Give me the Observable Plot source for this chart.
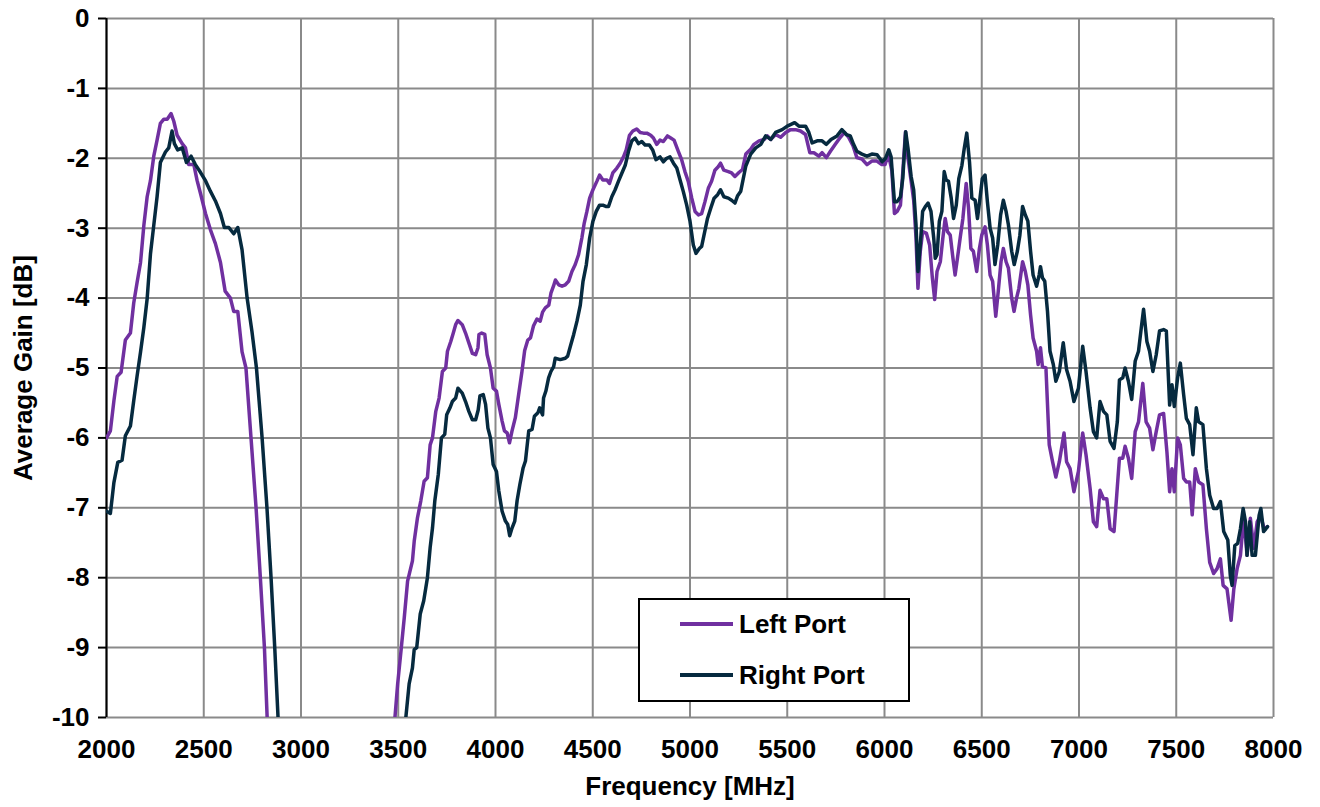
<!DOCTYPE html>
<html>
<head>
<meta charset="utf-8">
<script src="https://cdn.jsdelivr.net/npm/d3@7"></script>
<script src="https://cdn.jsdelivr.net/npm/@observablehq/plot@0.6"></script>
<style>
  html, body { margin: 0; padding: 0; background: #fff; }
  #wrap { position: relative; width: 1320px; height: 807px; font-family: "Liberation Sans", Arial, sans-serif; }
  #legend { position: absolute; left: 638px; top: 598px; width: 268px; height: 100px; border: 2px solid #000; background: #fff; box-sizing: content-box; }
  .item { position: absolute; left: 40px; height: 30px; display: flex; align-items: center; font-weight: bold; font-size: 26px; color: #000; }
  .sw { width: 53px; height: 4px; margin-right: 6px; }
</style>
</head>
<body>
<div id="wrap"></div>
<script>
// ---- data ----
const seriesNames = ["Left Port", "Right Port"];
const seriesColors = ["#7030A0", "#062A3F"];
const xTicks = [2000, 2500, 3000, 3500, 4000, 4500, 5000, 5500, 6000, 6500, 7000, 7500, 8000];
const yTicks = [0, -1, -2, -3, -4, -5, -6, -7, -8, -9, -10];

const leftFreq = [2000,2020,2038,2055,2075,2097,2123,2140,2157,2175,2192,2209,2226,2243,2260,2277,2295,2312,2332,2346,2363,2389,2406,2423,2449,2466,2483,2509,2534,2560,2586,2610,2637,2654,2675,2697,2717,2743,2769,2791,2812,2826,
3100,
3483,3497,3514,3531,3548,3573,3582,3599,3616,3633,3650,3664,3676,3693,3710,3727,3744,3753,3770,3783,3795,3807,3829,3846,3863,3881,3898,3910,3915,3929,3945,3957,3974,3988,4005,4017,4034,4046,4060,4072,4085,4102,4119,4136,4150,4166,4180,4195,4213,4230,4242,4256,4274,4285,4298,4308,4325,4342,4359,4376,4393,4410,4427,4444,4456,4470,4484,4501,4521,4535,4552,4573,4586,4603,4624,4641,4658,4672,4689,4706,4726,4744,4761,4778,4798,4812,4829,4846,4863,4884,4901,4918,4940,4957,4974,4991,5009,5026,5043,5060,5077,5094,5111,5128,5145,5157,5174,5197,5214,5231,5253,5270,5287,5312,5329,5355,5381,5398,5415,5440,5466,5492,5517,5543,5568,5594,5616,5637,5662,5679,5701,5722,5747,5773,5794,5816,5838,5858,5884,5910,5935,5961,5986,6003,6020,6038,6051,6065,6082,6094,6108,6118,6137,6150,6162,6172,6184,6196,6215,6232,6246,6258,6270,6287,6300,6312,6324,6338,6352,6363,6375,6389,6403,6420,6432,6444,6457,6474,6488,6500,6517,6529,6543,6556,6572,6585,6599,6611,6625,6637,6654,6666,6679,6691,6710,6724,6737,6751,6764,6782,6790,6802,6812,6830,6847,6864,6881,6899,6923,6936,6954,6974,6997,7019,7036,7057,7074,7091,7108,7126,7143,7160,7180,7194,7208,7225,7237,7254,7271,7289,7306,7328,7345,7363,7380,7397,7414,7435,7452,7466,7478,7490,7507,7521,7538,7552,7569,7582,7598,7615,7637,7655,7672,7692,7710,7727,7741,7761,7782,7796,7813,7830,7847,7864,7881,7899,7916,7933,7952,7969];
const leftGain = [-6.0,-5.9,-5.47,-5.12,-5.06,-4.6,-4.5,-4.07,-3.78,-3.49,-2.96,-2.55,-2.32,-1.97,-1.74,-1.5,-1.44,-1.44,-1.36,-1.47,-1.67,-1.79,-1.85,-2.09,-2.09,-2.32,-2.5,-2.79,-3.02,-3.22,-3.49,-3.9,-4.0,-4.19,-4.19,-4.77,-5.0,-6.0,-7.0,-8.0,-9.0,-10,
null,
-10,-9.52,-9.05,-8.57,-8.05,-7.76,-7.48,-7.14,-6.9,-6.62,-6.57,-6.1,-6.0,-5.62,-5.43,-5.05,-5.0,-4.76,-4.62,-4.5,-4.38,-4.32,-4.38,-4.5,-4.64,-4.79,-4.81,-4.71,-4.52,-4.5,-4.52,-4.81,-5.0,-5.29,-5.33,-5.52,-5.76,-5.9,-5.93,-6.07,-5.9,-5.71,-5.38,-5.05,-4.75,-4.6,-4.57,-4.4,-4.3,-4.33,-4.2,-4.14,-4.1,-3.93,-3.83,-3.74,-3.81,-3.83,-3.81,-3.76,-3.62,-3.52,-3.38,-3.14,-2.93,-2.76,-2.57,-2.45,-2.33,-2.24,-2.31,-2.31,-2.36,-2.21,-2.14,-2.07,-1.98,-1.88,-1.67,-1.61,-1.58,-1.63,-1.64,-1.64,-1.67,-1.71,-1.8,-1.74,-1.76,-1.68,-1.71,-1.74,-1.9,-2.02,-2.19,-2.33,-2.57,-2.76,-2.81,-2.79,-2.62,-2.43,-2.33,-2.17,-2.12,-2.07,-2.17,-2.19,-2.21,-2.26,-2.2,-2.16,-1.94,-1.87,-1.8,-1.75,-1.73,-1.68,-1.73,-1.66,-1.7,-1.63,-1.59,-1.59,-1.61,-1.66,-1.92,-1.92,-1.97,-1.92,-1.99,-1.9,-1.8,-1.7,-1.63,-1.7,-1.82,-1.99,-2.01,-2.09,-2.04,-2.04,-2.09,-2.09,-1.94,-2.18,-2.79,-2.76,-2.67,-2.2,-1.62,-1.94,-2.33,-2.6,-3.14,-3.86,-3.33,-3.05,-3.07,-3.24,-3.71,-4.02,-3.62,-3.48,-3.14,-2.86,-3.05,-3.1,-3.43,-3.67,-3.43,-3.14,-2.86,-2.36,-2.71,-3.29,-3.33,-3.62,-3.29,-3.1,-2.98,-3.24,-3.67,-3.76,-4.26,-3.9,-3.48,-3.29,-3.48,-3.57,-4.0,-4.19,-4.0,-3.86,-3.48,-3.62,-3.81,-4.24,-4.57,-4.76,-4.95,-4.71,-4.98,-5.0,-6.1,-6.34,-6.56,-6.34,-5.93,-6.34,-6.44,-6.77,-6.48,-5.93,-6.24,-6.72,-7.2,-7.27,-6.75,-6.87,-6.87,-7.3,-7.34,-6.82,-6.29,-6.29,-6.12,-6.29,-6.58,-5.91,-5.77,-5.22,-5.77,-5.86,-6.17,-5.91,-5.67,-5.65,-6.2,-6.77,-6.44,-6.77,-6.0,-6.1,-6.58,-6.63,-6.63,-7.1,-6.44,-6.63,-6.67,-7.3,-7.78,-7.94,-7.87,-7.73,-8.11,-8.16,-8.61,-8.16,-7.87,-7.68,-7.13,-7.68,-7.15,-7.58,-7.2,-7.11,-7.3,-7.27];

const rightFreq = [2000,2020,2038,2058,2080,2097,2123,2140,2157,2175,2192,2209,2226,2243,2260,2277,2303,2320,2337,2349,2366,2389,2411,2435,2457,2483,2509,2534,2560,2586,2606,2629,2654,2675,2697,2723,2748,2771,2800,2825,2846,2865,2882,
3200,
3539,3556,3573,3582,3595,3613,3631,3650,3664,3676,3688,3706,3722,3739,3749,3766,3778,3795,3807,3829,3846,3863,3881,3898,3911,3920,3937,3949,3961,3974,3988,4005,4017,4034,4051,4063,4073,4085,4099,4111,4125,4142,4154,4171,4188,4200,4218,4227,4242,4247,4259,4273,4285,4299,4307,4333,4359,4371,4385,4402,4419,4436,4450,4467,4484,4501,4518,4535,4552,4570,4581,4598,4615,4632,4650,4667,4684,4701,4718,4735,4752,4769,4791,4808,4825,4846,4863,4880,4897,4915,4932,4949,4966,4983,5000,5017,5031,5048,5060,5072,5090,5107,5124,5142,5157,5174,5197,5214,5231,5244,5261,5287,5312,5338,5364,5389,5415,5440,5474,5500,5538,5560,5594,5611,5628,5654,5679,5701,5725,5756,5781,5804,5824,5841,5858,5884,5910,5935,5962,5988,6005,6022,6034,6051,6065,6082,6094,6109,6121,6137,6150,6162,6172,6184,6196,6210,6224,6239,6253,6261,6270,6282,6295,6307,6317,6329,6343,6355,6369,6382,6398,6410,6423,6437,6449,6466,6478,6491,6503,6517,6529,6543,6556,6568,6582,6597,6611,6625,6637,6654,6667,6683,6696,6710,6724,6737,6751,6764,6782,6795,6802,6812,6824,6838,6851,6868,6881,6899,6919,6936,6954,6974,6997,7019,7036,7057,7074,7091,7108,7126,7143,7160,7180,7197,7208,7225,7237,7254,7271,7289,7306,7320,7332,7349,7363,7380,7397,7414,7435,7449,7466,7478,7490,7507,7521,7538,7552,7569,7586,7603,7615,7637,7655,7672,7692,7710,7727,7744,7765,7778,7787,7801,7816,7830,7844,7856,7864,7878,7890,7907,7926,7935,7949,7961,7969];
const rightGain = [-7.05,-7.08,-6.64,-6.35,-6.32,-5.97,-5.83,-5.47,-5.12,-4.77,-4.42,-4.01,-3.37,-2.96,-2.55,-2.06,-1.91,-1.85,-1.61,-1.79,-1.88,-1.85,-2.06,-1.97,-2.09,-2.2,-2.32,-2.47,-2.61,-2.79,-2.99,-2.99,-3.08,-2.99,-3.31,-4.0,-4.48,-5.0,-6.0,-7.0,-8.0,-9.0,-10,
null,
-10,-9.52,-9.29,-9.03,-9.0,-8.52,-8.33,-8.0,-7.57,-7.29,-6.9,-6.52,-6.0,-5.95,-5.67,-5.57,-5.48,-5.43,-5.29,-5.36,-5.48,-5.62,-5.74,-5.74,-5.6,-5.4,-5.38,-5.52,-5.86,-6.0,-6.38,-6.48,-6.76,-7.05,-7.19,-7.24,-7.4,-7.29,-7.19,-6.9,-6.67,-6.43,-6.33,-5.9,-5.88,-5.69,-5.64,-5.57,-5.67,-5.43,-5.33,-5.14,-5.05,-4.98,-4.86,-4.88,-4.86,-4.83,-4.69,-4.52,-4.33,-4.1,-3.76,-3.52,-3.14,-2.9,-2.76,-2.67,-2.67,-2.69,-2.69,-2.55,-2.45,-2.33,-2.21,-2.1,-1.9,-1.75,-1.71,-1.79,-1.76,-1.81,-1.81,-1.88,-2.02,-1.98,-2.05,-2.0,-1.98,-2.07,-2.14,-2.31,-2.48,-2.67,-2.9,-3.24,-3.36,-3.29,-3.26,-3.1,-2.86,-2.71,-2.57,-2.52,-2.45,-2.55,-2.57,-2.6,-2.64,-2.54,-2.47,-2.11,-1.94,-1.85,-1.8,-1.68,-1.73,-1.63,-1.59,-1.54,-1.49,-1.54,-1.54,-1.63,-1.78,-1.75,-1.75,-1.8,-1.73,-1.68,-1.59,-1.66,-1.68,-1.8,-1.9,-1.94,-1.97,-1.94,-1.95,-2.05,-2.0,-1.88,-1.98,-2.62,-2.62,-2.55,-2.29,-1.62,-1.86,-2.26,-2.45,-2.95,-3.62,-3.24,-2.76,-2.69,-2.64,-2.76,-3.14,-3.43,-3.38,-2.9,-2.76,-2.19,-2.31,-2.33,-2.57,-2.86,-2.67,-2.29,-2.1,-1.86,-1.64,-2.05,-2.57,-2.6,-2.86,-2.57,-2.29,-2.24,-2.62,-3.0,-3.14,-3.52,-3.24,-2.81,-2.6,-2.76,-2.95,-3.33,-3.52,-3.33,-3.1,-2.69,-2.81,-2.9,-3.33,-3.67,-3.83,-3.67,-3.55,-3.71,-3.76,-4.19,-4.76,-4.95,-5.19,-5.05,-4.64,-5.02,-5.19,-5.48,-5.29,-4.69,-5.05,-5.57,-5.91,-6.0,-5.48,-5.62,-5.67,-6.05,-6.15,-5.77,-5.17,-5.14,-5.0,-5.19,-5.45,-4.9,-4.76,-4.43,-4.16,-4.62,-4.76,-5.05,-4.81,-4.47,-4.45,-4.47,-5.53,-5.24,-5.55,-5.14,-4.93,-5.38,-5.72,-5.81,-6.24,-5.57,-5.77,-5.81,-6.44,-6.82,-7.01,-7.01,-6.91,-7.34,-7.46,-7.97,-8.11,-7.54,-7.51,-7.3,-7.01,-7.2,-7.68,-7.2,-7.68,-7.68,-7.11,-7.01,-7.34,-7.3,-7.27];

// ---- build tables ----
const leftData = leftFreq.map((f, i) => ({f, g: leftGain[i]}));
const rightData = rightFreq.map((f, i) => ({f, g: rightGain[i]}));

const gridStyle = {stroke: "#8a8a8a", strokeOpacity: 1, strokeWidth: 2};

const chart = Plot.plot({
  width: 1320,
  height: 807,
  marginLeft: 106,
  marginRight: 47,
  marginTop: 18,
  marginBottom: 90,
  style: {
    fontFamily: "'Liberation Sans', Arial, sans-serif",
    fontSize: "26px",
    fontWeight: "bold",
    color: "#000",
    background: "#fff",
    overflow: "visible"
  },
  x: {domain: [2000, 8000]},
  y: {domain: [-10, 0]},
  marks: [
    Plot.gridX(xTicks, gridStyle),
    Plot.gridY(yTicks, gridStyle),
    Plot.ruleX([2000], {stroke: "#000", strokeWidth: 2}),
    Plot.axisY(yTicks, {
      tickSize: 8, tickPadding: 9, strokeWidth: 2,
      tickFormat: d => String(d),
      label: "Average Gain [dB]", labelAnchor: "center", labelArrow: "none", labelOffset: 93
    }),
    Plot.axisX(xTicks, {
      tickSize: 0, tickPadding: 22,
      tickFormat: d => String(d),
      label: "Frequency [MHz]", labelAnchor: "center", labelArrow: "none", labelOffset: 77
    }),
    Plot.line(leftData, {x: "f", y: "g", stroke: seriesColors[0], strokeWidth: 3.5, clip: true}),
    Plot.line(rightData, {x: "f", y: "g", stroke: seriesColors[1], strokeWidth: 3.5, clip: true})
  ]
});

const wrap = document.getElementById("wrap");
wrap.appendChild(chart);

// legend (inside plot area, as in the reference)
const legend = document.createElement("div");
legend.id = "legend";
seriesNames.forEach((name, i) => {
  const it = document.createElement("div");
  it.className = "item";
  it.style.top = (i === 0 ? 9 : 60) + "px";
  const sw = document.createElement("span");
  sw.className = "sw";
  sw.style.background = seriesColors[i];
  const tx = document.createElement("span");
  tx.textContent = name;
  it.appendChild(sw);
  it.appendChild(tx);
  legend.appendChild(it);
});
wrap.appendChild(legend);
</script>
</body>
</html>
